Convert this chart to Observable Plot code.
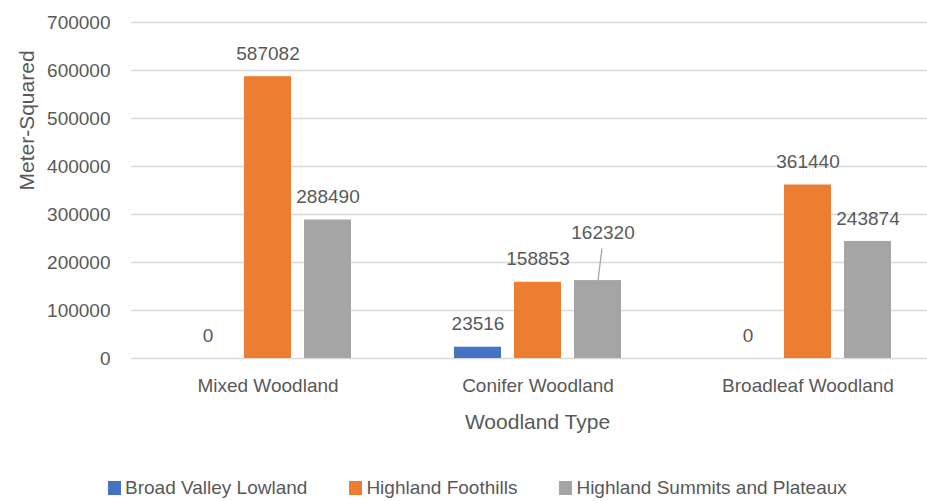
<!DOCTYPE html>
<html><head><meta charset="utf-8">
<script src="https://cdn.jsdelivr.net/npm/d3@7"></script>
<script src="https://cdn.jsdelivr.net/npm/@observablehq/plot@0.6"></script>
<style>
body{margin:0;background:#fff;font-family:"Liberation Sans",Arial,sans-serif;}
#wrap{position:relative;width:927px;height:501px;overflow:hidden}
#legend{position:absolute;top:477px;left:108px;display:flex;gap:42px;font-size:19px;line-height:22px;color:#595959;white-space:nowrap}
.item{display:flex;align-items:center;gap:4px}
.sw{width:13px;height:14px;display:inline-block}
</style></head><body><div id="wrap"></div>
<script>
const categories = ["Mixed Woodland", "Conifer Woodland", "Broadleaf Woodland"];
const series = ["Broad Valley Lowland", "Highland Foothills", "Highland Summits and Plateaux"];
const lowland = [0, 23516, 0];
const foothills = [587082, 158853, 361440];
const summits = [288490, 162320, 243874];
const colors = ["#4472C4", "#ED7D31", "#A5A5A5"];
const yTicks = [0, 100000, 200000, 300000, 400000, 500000, 600000, 700000];
const xTitle = "Woodland Type";
const yTitle = "Meter-Squared";

const seriesValues = [lowland, foothills, summits];
const data = [];
seriesValues.forEach((vals, si) => vals.forEach((v, ci) => data.push({category: categories[ci], series: series[si], si, value: v})));

const textColor = "#595959";
const step = 60;
const marks = [
  Plot.ruleY(yTicks, {stroke: "#d9d9d9", strokeWidth: 1.5})
];
series.forEach((s, si) => {
  const sub = data.filter(d => d.si === si);
  marks.push(Plot.barY(sub, {x: "category", y: "value", fill: "series", dx: (si - 1) * step}));
  const normal = sub.filter(d => !(d.si === 2 && d.category === "Conifer Woodland"));
  marks.push(Plot.text(normal, {x: "category", y: "value", text: d => String(d.value), dx: (si - 1) * step, dy: -23, fill: textColor, fontSize: 19, lineAnchor: "middle"}));
});
const special = data.filter(d => d.si === 2 && d.category === "Conifer Woodland");
marks.push(Plot.text(special, {x: "category", y: "value", text: d => String(d.value), dx: step + 5, dy: -48, fill: textColor, fontSize: 19, lineAnchor: "middle"}));
marks.push(Plot.vector(special, {x: "category", y: "value", dx: step, length: 32, rotate: 7, anchor: "start", stroke: "#a6a6a6", strokeWidth: 1.3,
  shape: {draw(context, l) { context.moveTo(0, 0); context.lineTo(0, -l); }}}));
marks.push(Plot.axisX({tickSize: 0, tickPadding: 27, fontSize: 19, fill: textColor, label: null, lineAnchor: "middle"}));
marks.push(Plot.axisY({ticks: yTicks, tickSize: 0, tickPadding: 21, fontSize: 19, fill: textColor, label: null, tickFormat: d => String(d)}));
marks.push(Plot.text([xTitle], {frameAnchor: "bottom", dy: 64, dx: 8, fontSize: 21, fill: textColor, lineAnchor: "middle"}));
marks.push(Plot.text([yTitle], {frameAnchor: "left", dx: -104, rotate: -90, fontSize: 21, fill: textColor, lineAnchor: "middle"}));

const chart = Plot.plot({
  width: 927,
  height: 470,
  marginTop: 22,
  marginBottom: 112,
  marginLeft: 131,
  marginRight: 0,
  style: {fontFamily: '"Liberation Sans", Arial, sans-serif', background: "#fff"},
  x: {domain: categories, paddingInner: 0.8266, paddingOuter: 0.382, align: 0.541},
  y: {domain: [0, 700000]},
  color: {domain: series, range: colors},
  marks
});
const wrap = document.getElementById("wrap");
wrap.appendChild(chart);
const legend = document.createElement("div");
legend.id = "legend";
series.forEach((s, i) => {
  const it = document.createElement("div"); it.className = "item";
  const sw = document.createElement("span"); sw.className = "sw"; sw.style.background = colors[i];
  const t = document.createElement("span"); t.textContent = s;
  it.appendChild(sw); it.appendChild(t); legend.appendChild(it);
});
wrap.appendChild(legend);
</script></body></html>
